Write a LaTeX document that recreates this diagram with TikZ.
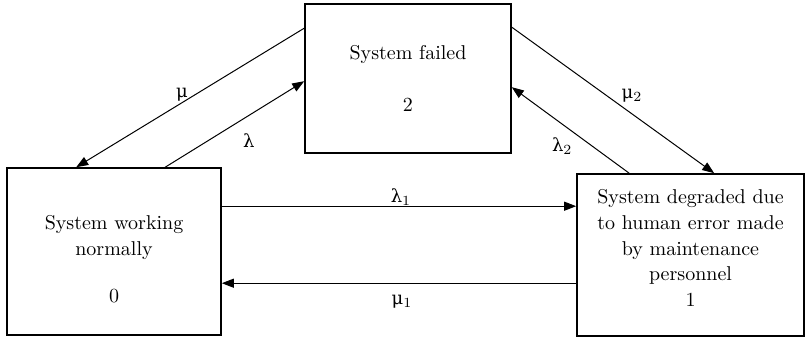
\documentclass[tikz,border=0pt]{standalone}
\usepackage{fontspec}
\newfontfamily\grk{DejaVu Serif}[Scale=0.9]
\usetikzlibrary{arrows.meta}

\newcommand{\gmu}{{\grk μ}}
\newcommand{\glam}{{\grk λ}}

\begin{document}
\begin{tikzpicture}[
    x=1pt, y=1pt,
    font=\fontsize{10}{12.8}\selectfont,
    box/.style={draw, line width=0.8pt, align=center, inner sep=0pt},
    arr/.style={-{Triangle[length=6pt, width=4.5pt]}, line width=0.5pt},
    lbl/.style={inner sep=1pt}
  ]
  \useasboundingbox (0,0) rectangle (402.5,-169);
  % states
  \node[box, minimum width=107pt, minimum height=83.5pt] (s0) at (57,-125.75)
    {\rule{0pt}{15pt}System working\\normally\\[10.7pt]0};
  \node[box, minimum width=103pt, minimum height=74.5pt] (s2) at (204,-39.25)
    {System failed\\[13pt]2};
  \node[box, minimum width=113.5pt, minimum height=81pt, text depth=7pt] (s1) at (345.25,-127.5)
    {System degraded due\\to human error made\\by maintenance\\personnel\\1};
  % transitions
  \draw[arr] ([yshift=-12.5pt]s2.north west) -- node[lbl, pos=0.5, above left, yshift=-3pt] {\gmu} ([xshift=35pt]s0.north west);
  \draw[arr] ([xshift=79.5pt]s0.north west) -- node[lbl, pos=0.5, below right, xshift=3pt, yshift=-3.5pt] {\glam} ([yshift=-39pt]s2.north west);
  \draw[arr] ([yshift=-12pt]s2.north east) -- node[lbl, pos=0.53, above right] {\gmu\textsubscript{2}} ([xshift=69pt]s1.north west);
  \draw[arr] ([xshift=26.5pt]s1.north west) -- node[lbl, pos=0.445, below left, xshift=-1pt] {\glam\textsubscript{2}} ([yshift=-42pt]s2.north east);
  \coordinate (l1) at ([yshift=-19.5pt]s0.north east);
  \coordinate (m1) at ([yshift=-55pt]s1.north west);
  \draw[arr] (l1) -- node[lbl, above, xshift=1pt, yshift=-1pt] {\glam\textsubscript{1}} (l1 -| s1.west);
  \draw[arr] (m1) -- node[lbl, below=4.5pt, xshift=1.5pt] {\gmu\textsubscript{1}} (m1 -| s0.east);
\end{tikzpicture}
\end{document}
